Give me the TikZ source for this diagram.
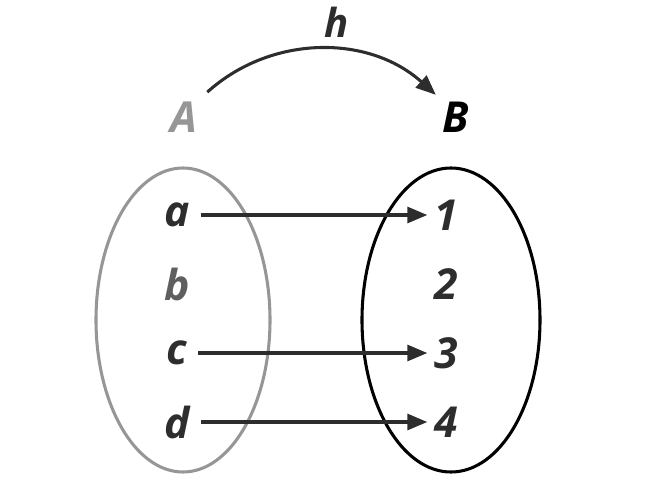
\documentclass[tikz,border=0pt]{standalone}
\usepackage{fontspec}
\setmainfont{Open Sans}
\usetikzlibrary{arrows.meta}
\definecolor{ink}{RGB}{45, 45, 45}
\definecolor{pale}{RGB}{150, 150, 150}
\definecolor{soft}{RGB}{95, 95, 95}
\tikzset{
  elem/.style={font=\fontsize{32}{36}\selectfont\bfseries\itshape, text=ink, inner sep=5pt},
  maparrow/.style={ink, line width=2.3pt, -{Triangle[length=15pt, width=12pt]}}
}

\begin{document}
\begin{tikzpicture}[x=0.75pt, y=-0.75pt]

  \useasboundingbox (0, 0) rectangle (660, 503);

  % the two sets
  \draw[pale, line width=2.3pt] (183, 320) ellipse [x radius=87, y radius=152];
  \draw[black, line width=2.3pt] (451, 320) ellipse [x radius=89, y radius=152];

  \node[elem, text=pale] (A) at (184, 117) {A};
  \node[elem, text=black] (B) at (456, 117) {B};
  \node[elem, font=\fontsize{30}{36}\selectfont\bfseries\itshape] (h) at (337, 22) {h};

  \foreach \name/\y/\colour in {a/215/ink, b/284/soft, c/353/ink, d/422/ink} {
    \node[elem, text=\colour] (\name) at (177, \y) {\name};
  }
  \foreach \n/\y in {1/215, 2/284, 3/353, 4/422} {
    \node[elem] (n\n) at (446, \y) {\n};
  }

  \draw[maparrow, shorten <=3pt] (A.north east) to[bend left=42] (B.north west);
  \draw[maparrow, shorten <=3pt] (a) -- (n1);
  \draw[maparrow, shorten <=3pt] (c) -- (n3);
  \draw[maparrow, shorten <=3pt] (d) -- (n4);

\end{tikzpicture}
\end{document}
